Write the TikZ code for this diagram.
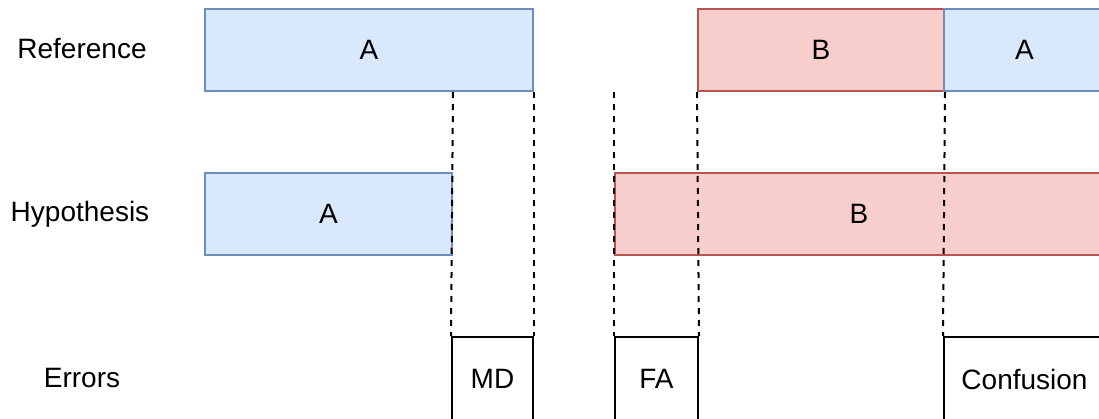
\documentclass[tikz,border=0pt]{standalone}
\usepackage{fontspec}
\setmainfont{Liberation Sans}
\usetikzlibrary{positioning}

\definecolor{segblue}{HTML}{DAE8FC}
\definecolor{segbluedraw}{HTML}{6C8EBF}
\definecolor{segred}{HTML}{F8CECC}
\definecolor{segreddraw}{HTML}{B85450}

\tikzset{
  seg/.style={rectangle, anchor=north west, minimum height=82pt, inner sep=0pt,
    line width=2pt, font=\fontsize{28}{32}\selectfont},
  segA/.style={seg, draw=segbluedraw, fill=segblue},
  segB/.style={seg, draw=segreddraw, fill=segred},
  errseg/.style={seg, draw=black, minimum height=84pt},
  rowlabel/.style={font=\fontsize{28}{32}\selectfont},
  boundary/.style={dash pattern=on 6pt off 6pt, line width=2pt},
}

\begin{document}
\begin{tikzpicture}[x=1pt,y=-1pt]
	\clip (0,0) rectangle (1099,418);
	
	% row titles
	\node[rowlabel] (lref) at (82,49) {Reference};
	\node[rowlabel] (lhyp) at (80,214) {Hypothesis};
	\node[rowlabel] (lerr) at (82,378) {Errors};
	
	% reference segments
	\node[segA, minimum width=328pt] (refA) at (204,8) {A};
	\node[segB, minimum width=246pt] (refB) at (697,8) {B};
	\node[segA, minimum width=161pt] (refA2) at (943,8) {A};
	
	% hypothesis segments
	\node[segA, minimum width=247pt] (hypA) at (204,172) {A};
	\node[segB, minimum width=488pt] (hypB) at (614,172) {B};
	
	% error regions
	\node[errseg, minimum width=81pt] (md) at (451,336) {MD};
	\node[errseg, minimum width=83pt] (fa) at (614,336) {FA};
	\node[errseg, minimum width=161pt] (conf) at (943,336) {Confusion};
	
	% boundaries
	\draw[boundary] (hypA.north east |- refA.south) -- (md.north west);
	\draw[boundary] (refA.south east) -- (md.north east);
	\draw[boundary] (hypB.north west |- refA.south) -- (fa.north west);
	\draw[boundary] (refB.south west) -- (fa.north east);
	\draw[boundary] (refB.south east) -- (conf.north west);
\end{tikzpicture}
\end{document}
